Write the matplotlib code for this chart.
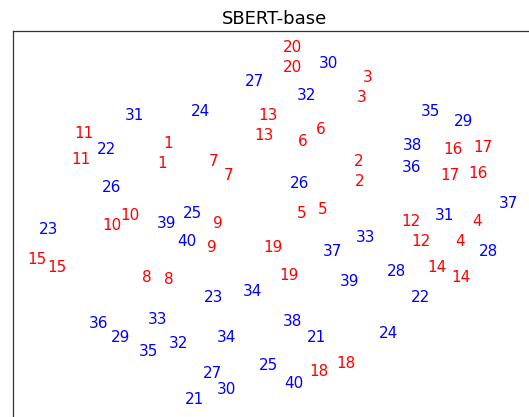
import numpy as np
import matplotlib
matplotlib.use("Agg")
import matplotlib.pyplot as plt

# 2-D embedding coordinates (screen-like units, y grows downward)
red_labels = ["20", "20", "3", "3", "13", "13", "6", "6", "11", "11", "1", "1",
              "7", "7", "2", "2", "16", "17", "17", "16", "10", "10", "9", "9",
              "5", "5", "19", "19", "12", "12", "4", "4", "15", "15", "8", "8",
              "14", "14", "18", "18"]
red_x = [292, 292, 368, 362, 268, 264, 321, 303, 84, 81, 168, 162,
         214, 229, 359, 360, 453, 483, 450, 478, 130, 112, 218, 212,
         302, 323, 273, 289, 411, 421, 477, 460, 37, 57, 147, 169,
         437, 461, 319, 346]
red_y = [48, 68, 78, 97, 116, 135, 129, 141, 134, 159, 144, 163,
         162, 176, 162, 182, 149, 148, 175, 174, 215, 226, 223, 248,
         213, 210, 247, 276, 222, 242, 222, 242, 260, 267, 278, 279,
         268, 277, 371, 364]

blue_labels = ["30", "27", "32", "35", "29", "31", "24", "22", "38", "36",
               "26", "26", "37", "23", "25", "39", "40", "31", "33", "37",
               "28", "39", "28", "23", "34", "22", "36", "33", "29", "35",
               "32", "34", "38", "21", "24", "25", "40", "27", "30", "21"]
blue_x = [328, 255, 307, 431, 464, 135, 201, 106, 412, 412,
          112, 300, 509, 49, 193, 167, 187, 444, 366, 333,
          489, 350, 397, 214, 252, 420, 99, 158, 121, 148,
          179, 227, 293, 316, 388, 269, 294, 212, 227, 194]
blue_y = [63, 82, 96, 111, 121, 115, 111, 150, 145, 168,
          188, 183, 203, 230, 213, 223, 242, 216, 238, 251,
          252, 281, 272, 298, 292, 297, 324, 319, 338, 351,
          343, 338, 322, 338, 333, 366, 383, 373, 389, 399]

W, H = 529, 417
fig = plt.figure(figsize=(W / 100, H / 100), dpi=100)
left, right, top, bottom = 13, 536, 31, 440
ax = fig.add_axes([left / W, 1 - bottom / H, (right - left) / W, (bottom - top) / H])
ax.set_xlim(left, right)
ax.set_ylim(bottom, top)

for lab, x, y in zip(red_labels, red_x, red_y):
    ax.text(x, y, lab, color="red", fontsize=11, ha="center", va="center")
for lab, x, y in zip(blue_labels, blue_x, blue_y):
    ax.text(x, y, lab, color="blue", fontsize=11, ha="center", va="center")

ax.set_xticks([])
ax.set_yticks([])
for s in ax.spines.values():
    s.set_color("#333333")
    s.set_linewidth(0.9)
ax.set_title("SBERT-base", fontsize=13, pad=5)

fig.savefig("out.png", dpi=100)
